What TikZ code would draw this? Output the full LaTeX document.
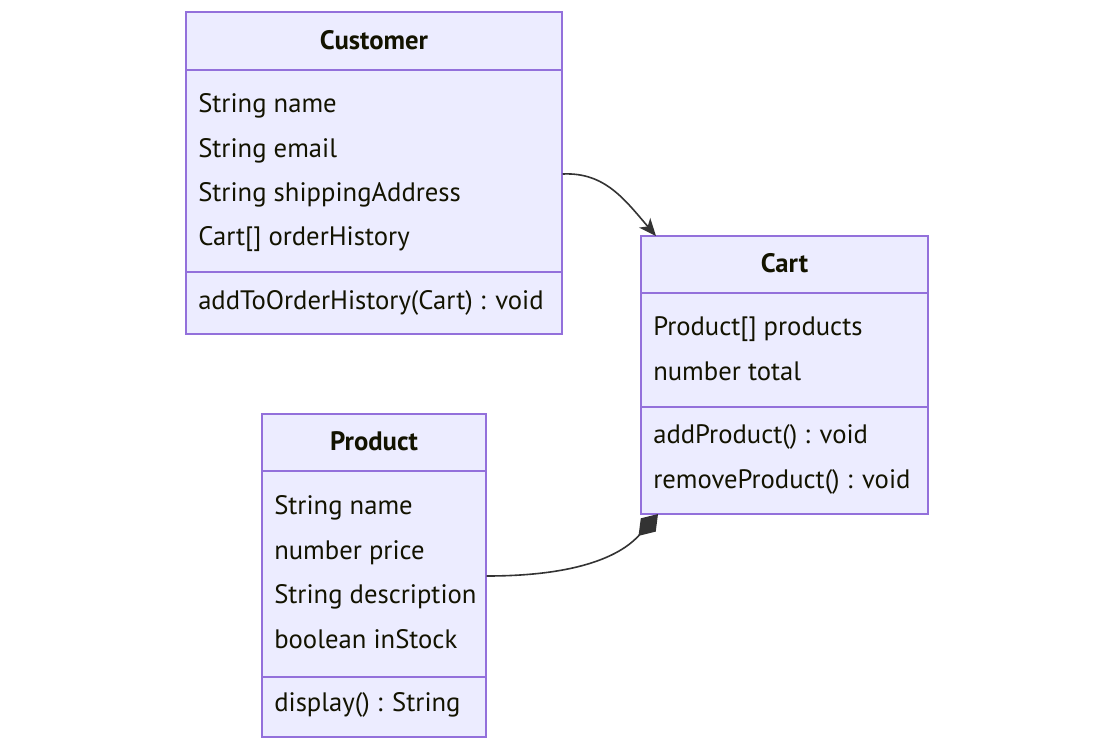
\documentclass[tikz,border=0pt]{standalone}
\usepackage{fontspec}
\setmainfont{PT Sans}
\usetikzlibrary{arrows.meta}
\definecolor{boxfill}{HTML}{ECECFF}
\definecolor{boxline}{HTML}{9370DB}
\definecolor{txt}{HTML}{131300}
\definecolor{edgec}{HTML}{333333}
\begin{document}
\begin{tikzpicture}[x=0.75pt,y=-0.75pt,
  classbox/.style={draw=boxline,fill=boxfill,line width=1.1pt,inner sep=0pt,rectangle},
  divider/.style={draw=boxline,line width=1.1pt},
  member/.style={anchor=base west,inner sep=0pt,text=txt,font=\fontsize{20}{24}\selectfont},
  title/.style={anchor=base,inner sep=0pt,text=txt,font=\fontsize{20}{24}\selectfont\bfseries},
  edge/.style={draw=edgec,line width=1.2pt}]
\useasboundingbox (0,0) rectangle (1114,750);
% boxes
\node[classbox,minimum width=282pt,minimum height=241.5pt] (cust) at (374,173) {};
\node[classbox,minimum width=215.25pt,minimum height=208.5pt] (cart) at (784.5,375) {};
\node[classbox,minimum width=168pt,minimum height=242.25pt] (prod) at (374,575.5) {};
% dividers
\draw[divider] (186,70) -- (562,70);
\draw[divider] (186,272) -- (562,272);
\draw[divider] (641,293) -- (928,293);
\draw[divider] (641,407) -- (928,407);
\draw[divider] (262,471) -- (486,471);
\draw[divider] (262,677) -- (486,677);
% Customer
\node[title] (custT) at (374,49) {Customer};
\node[member] (c1) at (198,112) {String name};
\node[member] (c2) at (198,157) {String email};
\node[member] (c3) at (198,201) {String shippingAddress};
\node[member] (c4) at (198,245) {Cart[] orderHistory};
\node[member] (c5) at (198,309) {addToOrderHistory(Cart) : void};
% Cart
\node[title] (cartT) at (784.5,272) {Cart};
\node[member] (k1) at (653,335) {Product[] products};
\node[member] (k2) at (653,380) {number total};
\node[member] (k3) at (653,443) {addProduct() : void};
\node[member] (k4) at (653,488) {removeProduct() : void};
% Product
\node[title] (prodT) at (374,450) {Product};
\node[member] (p1) at (274,514) {String name};
\node[member] (p2) at (274,559) {number price};
\node[member] (p3) at (274,603) {String description};
\node[member] (p4) at (274,648) {boolean inStock};
\node[member] (p5) at (274,711) {display() : String};
% edges
\coordinate (custE) at (cust.east |- 0,174);
\coordinate (cartN) at (656,236);
\draw[edge,-{Stealth[length=13pt,width=11pt,inset=3.5pt]}] (custE) .. controls (605,172) and (625,200) .. (cartN);
\coordinate (cartS) at (658,514);
\coordinate (prodE) at (prod.east |- 0,576);
\draw[edge,{Diamond[length=22pt,width=15pt,fill=edgec]}-] (cartS) .. controls (626,550) and (590,576) .. (prodE);
\end{tikzpicture}
\end{document}
